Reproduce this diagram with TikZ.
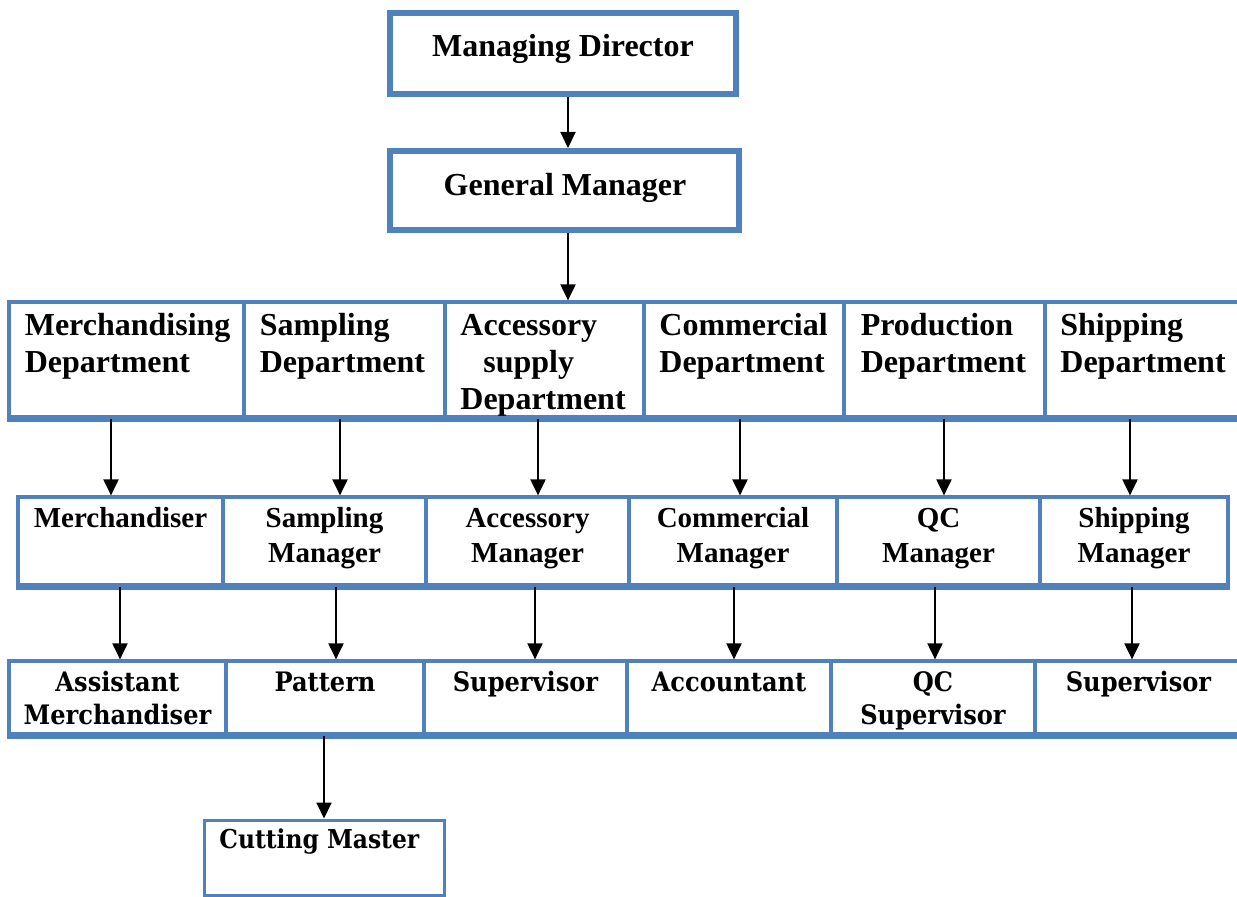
\documentclass[tikz,border=0pt]{standalone}
\usepackage{fontspec}
\setmainfont{Liberation Serif}
\newfontfamily\stafffont{DejaVu Serif Condensed}
\usetikzlibrary{arrows.meta,fit}
\definecolor{boxblue}{HTML}{4F81BD}

\begin{document}
\begin{tikzpicture}[x=0.5pt,y=-0.5pt,
  cell/.style={draw=boxblue, line width=1.6pt, inner sep=0pt},
  headbox/.style={draw=boxblue, line width=3pt, inner sep=0pt},
  rowbase/.style={draw=boxblue, line width=3pt},
  link/.style={-{Triangle[length=8pt,width=7.5pt]}, line width=1pt},
  headtxt/.style={font=\bfseries\fontsize{16}{18}\selectfont, inner sep=0pt, anchor=base},
  depttxt/.style={font=\bfseries\fontsize{16}{18.5}\selectfont, inner sep=0pt, anchor=north west, align=left},
  mgrtxt/.style={font=\bfseries\fontsize{14.5}{17.5}\selectfont, inner sep=0pt, anchor=north, align=center},
  stafftxt/.style={font=\stafffont\bfseries\fontsize{13.4}{16.5}\selectfont, inner sep=0pt, anchor=north, align=center},
]
\useasboundingbox (0,0) rectangle (1237,897);
\clip (0,0) rectangle (1237,897);

% top of the hierarchy
\node[headbox, fit={(390,13) (736,94)}] (md) {};
\node[headtxt] (mdt) at (563,57) {Managing Director};
\node[headbox, fit={(390,151) (739,230)}] (gm) {};
\node[headtxt] (gmt) at (565,196) {General Manager};

% departments
\node[cell, fit={(9,302) (244,417)}] (d1) {};
\node[cell, fit={(244,302) (445,417)}] (d2) {};
\node[cell, fit={(445,302) (644,417)}] (d3) {};
\node[cell, fit={(644,302) (844,417)}] (d4) {};
\node[cell, fit={(844,302) (1045,417)}] (d5) {};
\node[cell, fit={(1045,302) (1242,417)}] (d6) {};
\draw[rowbase] (d1.south west) -- (d6.south east);
\node[depttxt] (d1t) at ([shift={(17,8.6)}]d1.north west) {\strut Merchandising\\Department};
\node[depttxt] (d2t) at ([shift={(17,8.6)}]d2.north west) {\strut Sampling\\Department};
\node[depttxt] (d3t) at ([shift={(16.6,8.6)}]d3.north west) {\strut Accessory\\\hspace{11.5pt}supply\\Department};
\node[depttxt] (d4t) at ([shift={(16.6,8.6)}]d4.north west) {\strut Commercial\\Department};
\node[depttxt] (d5t) at ([shift={(18,8.6)}]d5.north west) {\strut Production\\Department};
\node[depttxt] (d6t) at ([shift={(16.6,8.6)}]d6.north west) {\strut Shipping\\Department};

% managers
\node[cell, fit={(18,497) (223,585)}] (m1) {};
\node[cell, fit={(223,497) (426,585)}] (m2) {};
\node[cell, fit={(426,497) (629,585)}] (m3) {};
\node[cell, fit={(629,497) (837,585)}] (m4) {};
\node[cell, fit={(837,497) (1040,585)}] (m5) {};
\node[cell, fit={(1040,497) (1228,585)}] (m6) {};
\draw[rowbase] (m1.south west) -- (m6.south east);
\node[mgrtxt] (m1t) at ([shift={(0,7)}]m1.north) {\strut Merchandiser};
\node[mgrtxt] (m2t) at ([shift={(0,7)}]m2.north) {\strut Sampling\\Manager};
\node[mgrtxt] (m3t) at ([shift={(0,7)}]m3.north) {\strut Accessory\\Manager};
\node[mgrtxt] (m4t) at ([shift={(0,7)}]m4.north) {\strut Commercial\\Manager};
\node[mgrtxt] (m5t) at ([shift={(0,7)}]m5.north) {\strut QC\\Manager};
\node[mgrtxt] (m6t) at ([shift={(0,7)}]m6.north) {\strut Shipping\\Manager};

% staff
\node[cell, fit={(9,661) (226,734)}] (r1) {};
\node[cell, fit={(226,661) (424,734)}] (r2) {};
\node[cell, fit={(424,661) (627,734)}] (r3) {};
\node[cell, fit={(627,661) (831,734)}] (r4) {};
\node[cell, fit={(831,661) (1035,734)}] (r5) {};
\node[cell, fit={(1035,661) (1242,734)}] (r6) {};
\draw[rowbase] (r1.south west) -- (r6.south east);
\node[stafftxt] (r1t) at ([shift={(0,8.5)}]r1.north) {\strut Assistant\\Merchandiser};
\node[stafftxt] (r2t) at ([shift={(0,8.5)}]r2.north) {\strut Pattern};
\node[stafftxt] (r3t) at ([shift={(0,8.5)}]r3.north) {\strut Supervisor};
\node[stafftxt] (r4t) at ([shift={(0,8.5)}]r4.north) {\strut Accountant};
\node[stafftxt] (r5t) at ([shift={(0,8.5)}]r5.north) {\strut QC\\Supervisor};
\node[stafftxt] (r6t) at ([shift={(0,8.5)}]r6.north) {\strut Supervisor};

\node[cell, line width=1.5pt, fit={(204,820) (444,895)}] (cm) {};
\node[font=\stafffont\bfseries\fontsize{13}{16.5}\selectfont, inner sep=0pt, anchor=base west] (cmt) at (219,848) {Cutting Master};

% column positions of the connectors
\coordinate (top) at (568,0);
\foreach \n/\x in {1/111,2/340,3/538,4/740,5/944,6/1130} {\coordinate (c\n) at (\x,0);}
\foreach \n/\x in {1/120,2/336,3/535,4/734,5/935,6/1132} {\coordinate (k\n) at (\x,0);}
\coordinate (cut) at (324,0);

\draw[link] (md.south -| top) -- (gm.north -| top);
\draw[link] (gm.south -| top) -- (d3.north -| top);
\foreach \n in {1,...,6} {
  \draw[link] (d\n.south -| c\n) -- (m\n.north -| c\n);
  \draw[link] (m\n.south -| k\n) -- (r\n.north -| k\n);
}
\draw[link] (r2.south -| cut) -- (cm.north -| cut);
\end{tikzpicture}
\end{document}
